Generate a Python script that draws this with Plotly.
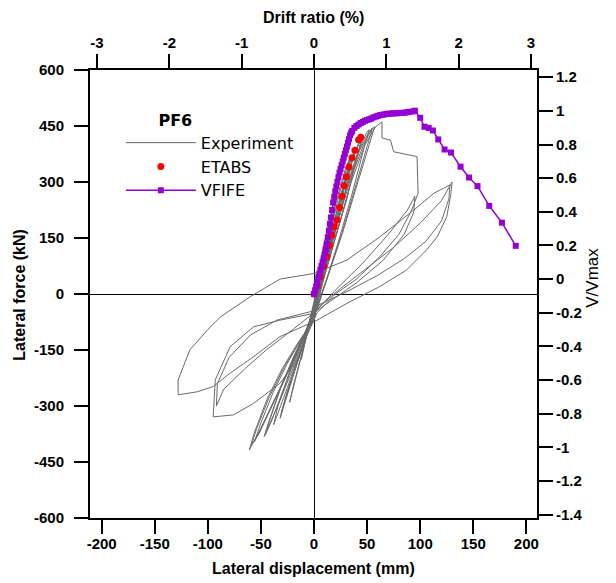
import plotly.graph_objects as go

# Experiment hysteresis (mm, kN)
exp_disp = [
    0, 4, 9, 12, 9, 4, 0, -4, -9, -12, -9, -4, 0,
    4, 10, 17, 21, 17, 10, 3, 0, -6, -13, -20, -23, -19, -10, -4, 0,
    5, 13, 22, 30, 34, 29, 20, 10, 2, -3, -10, -20, -30, -32, -27, -16, -6, 0,
    5, 14, 24, 32, 35, 30, 21, 11, 2, -4, -12, -22, -29, -31, -25, -14, -5, 0,
    6, 15, 25, 33, 38, 34, 25, 14, 4, -5, -14, -25, -34, -38, -34, -22, -10, 0,
    6, 15, 25, 35, 42, 45, 40, 30, 18, 8, 0, -8, -18, -30, -40, -46, -42, -30, -18, -6, 0,
    7, 17, 28, 37, 42, 46, 40, 31, 19, 9, 1, -9, -20, -32, -42, -47, -43, -32, -20, -8, 0,
    8, 18, 30, 40, 50, 52, 47, 36, 24, 12, 2, -8, -20, -35, -50, -61, -56, -44, -30, -15, -4, 0,
    9, 20, 32, 43, 51, 55, 50, 38, 26, 13, 2, -9, -22, -37, -52, -59, -54, -42, -28, -14, -4, 0,
    9, 21, 34, 46, 54, 57, 52, 40, 27, 14, 3, -10, -24, -40, -54, -56, -50, -38, -25, -12, -3, 0,
    10, 22, 35, 48, 58, 64, 64, 72, 75, 97, 98, 92, 80, 62, 40, 20, 3, -8, -16, -32, -57, -76,
    -95, -93, -79, -57, -32, 0,
    20, 45, 70, 88, 95, 94, 85, 65, 40, 15, 0, -20, -45, -65, -85, -92, -91, -80, -60, -35, 0,
    25, 50, 75, 100, 120, 130, 129, 125, 116, 106, 87, 62, 31, 3, -32, -57, -79, -95, -110,
    -128, -128, -117, -100, -88, -60, -32, 0, 31, 62, 94, 113, 128, 127, 120, 105, 85, 60, 30, 0,
]
exp_force = [
    0, 50, 130, 165, 120, 40, -20, -70, -140, -175, -135, -75, -30,
    40, 130, 230, 265, 200, 110, 10, -40, -100, -180, -260, -290, -240, -140, -80, -40,
    40, 150, 260, 340, 365, 300, 190, 80, -10, -60, -130, -220, -310, -333, -280, -180, -100, -50,
    30, 150, 270, 350, 370, 300, 190, 80, -20, -70, -150, -240, -305, -320, -260, -170, -95, -55,
    35, 145, 265, 345, 385, 330, 220, 100, -10, -80, -160, -250, -320, -350, -300, -200, -110, -60,
    40, 150, 260, 350, 405, 421, 360, 250, 130, 30, -40, -100, -180, -270, -340, -378, -340, -240, -160, -90, -60,
    40, 160, 280, 365, 400, 420, 365, 255, 140, 40, -35, -110, -200, -285, -350, -382, -345, -255, -175, -100, -60,
    50, 160, 280, 370, 435, 440, 390, 270, 150, 40, -40, -100, -180, -270, -360, -418, -370, -280, -200, -130, -85, -70,
    55, 175, 295, 385, 430, 445, 395, 275, 160, 50, -45, -110, -195, -285, -375, -405, -360, -275, -195, -130, -88, -70,
    55, 180, 305, 395, 440, 448, 400, 285, 165, 55, -40, -115, -205, -300, -380, -395, -345, -260, -185, -120, -80, -65,
    50, 170, 300, 400, 448, 461, 418, 412, 381, 368, 270, 225, 160, 100, 40, 0, -50, -120, -177, -239, -293, -324,
    -329, -230, -141, -88, -70, -52,
    10, 80, 160, 225, 262, 220, 160, 90, 30, -20, -50, -95, -150, -200, -255, -300, -240, -170, -110, -70, -45,
    15, 70, 125, 190, 250, 300, 270, 207, 153, 118, 64, 20, -25, -70, -114, -168, -212, -248, -262,
    -270, -230, -150, -95, -61, -7, 40, 55, 91, 153, 225, 270, 292, 255, 195, 140, 95, 50, 5, -35,
]

# ETABS pushover
etabs_disp = [0, 3, 5.8, 9, 12.2, 14.5, 16.9, 19, 21.6, 24, 26.3, 28.5, 30.5, 33, 35.7, 38.5, 42, 44]
etabs_force = [0, 22, 46, 75, 100, 130, 158, 180, 198, 232, 262, 290, 314, 340, 365, 385, 413, 420]

# VFIFE pushover
vfife_disp = [0, 1, 2, 3, 4, 5, 6, 7, 8, 9, 10, 11, 12, 13, 14, 15, 16, 17, 18, 19, 20, 21, 22,
              23, 24, 25, 26, 27, 28, 29, 30, 31, 32, 33, 34, 35, 36, 38, 40, 42, 44, 46, 48, 50,
              52, 54, 56, 58, 60, 62, 64, 66, 68, 70, 72, 74, 76, 78, 80, 82, 84, 86, 88, 90, 93,
              95, 100, 104, 108, 112, 117, 123, 129, 138, 146, 154, 165, 177, 190]
vfife_force = [0, 10, 20, 32, 45, 55, 65, 75, 85, 95, 105, 120, 135, 152, 170, 188, 205, 225, 245,
               260, 275, 288, 300, 313, 325, 335, 345, 355, 365, 375, 385, 395, 405, 415, 425,
               432, 437, 445, 450, 454, 458, 461, 464, 466, 468, 470, 473, 475, 477, 479, 480,
               481, 482, 483, 483, 484, 484, 484, 485, 485, 485, 486, 487, 488, 489, 491, 472,
               448, 445, 438, 414, 387, 379, 341, 312, 289, 236, 191, 129]

disp_ticks = [-200, -150, -100, -50, 0, 50, 100, 150, 200]
force_ticks = [-600, -450, -300, -150, 0, 150, 300, 450, 600]
drift_ticks = [-3, -2, -1, 0, 1, 2, 3]
ratio_ticks = [-1.4, -1.2, -1, -0.8, -0.6, -0.4, -0.2, 0, 0.2, 0.4, 0.6, 0.8, 1, 1.2]

tick_font = dict(family="Liberation Sans", size=15, color="black", weight="bold")
title_font = dict(family="Liberation Sans", size=16, color="black", weight="bold")
PURPLE = "#9400d3"

fig = go.Figure()

fig.add_trace(go.Scatter(
    x=exp_disp, y=exp_force, mode="lines", name="Experiment",
    line=dict(color="#6b6b6b", width=1)
))
fig.add_trace(go.Scatter(
    x=etabs_disp, y=etabs_force, mode="markers", name="ETABS",
    marker=dict(color="red", size=7, symbol="circle")
))
fig.add_trace(go.Scatter(
    x=vfife_disp, y=vfife_force, mode="lines+markers", name="VFIFE",
    line=dict(color=PURPLE, width=1.5),
    marker=dict(color=PURPLE, size=6, symbol="square")
))
# empty trace so the drift ratio / V/Vmax axes get drawn
fig.add_trace(go.Scatter(x=[None], y=[None], xaxis="x2", yaxis="y2",
                         showlegend=False, hoverinfo="skip"))

axis_common = dict(showline=True, linecolor="black", linewidth=2, ticks="outside",
                   ticklen=14, tickwidth=2, tickcolor="black", showgrid=False,
                   tickfont=tick_font)

# the page body has an 8px margin, so the figure is 8px smaller than the window
fig.update_layout(
    width=608, height=575,
    margin=dict(l=82, r=79, t=62, b=65),
    plot_bgcolor="white", paper_bgcolor="white",
    xaxis=dict(range=[-211, 210], tickvals=disp_ticks,
               ticktext=[f"{v:g}" for v in disp_ticks], ticklabelstandoff=-3,
               zeroline=True, zerolinecolor="black", zerolinewidth=1, **axis_common),
    yaxis=dict(range=[-600, 600], tickvals=force_ticks,
               ticktext=[f"{v:g}" for v in force_ticks], ticklabelstandoff=7,
               zeroline=True, zerolinecolor="black", zerolinewidth=1, **axis_common),
    xaxis2=dict(range=[-3.097, 3.083], overlaying="x", side="top", anchor="y2",
                tickvals=drift_ticks, ticktext=[f"{v:g}" for v in drift_ticks],
                zeroline=False, **axis_common),
    yaxis2=dict(range=[-1.42, 1.243], overlaying="y", side="right", anchor="x2",
                tickvals=ratio_ticks, ticktext=[f"{v:g}" for v in ratio_ticks],
                zeroline=False, **axis_common),
    showlegend=True,
    legend=dict(
        x=0.069, y=0.922, xanchor="left", yanchor="top",
        bgcolor="rgba(0,0,0,0)", itemwidth=70,
        font=dict(family="DejaVu Sans", size=16, color="black"),
        title=dict(text="\u00a0" * 7 + "<b>PF6</b>", side="top",
                   font=dict(family="DejaVu Sans", size=16, color="black")),
    ),
    annotations=[
        dict(text="Drift ratio (%)", xref="paper", yref="paper", x=0.5, y=1.118,
             xanchor="center", yanchor="middle", showarrow=False, font=title_font),
        dict(text="Lateral displacement (mm)", xref="paper", yref="paper", x=0.5, y=-0.112,
             xanchor="center", yanchor="middle", showarrow=False, font=title_font),
        dict(text="Lateral force (kN)", xref="paper", yref="paper", x=-0.157, y=0.498,
             xanchor="center", yanchor="middle", textangle=-90, showarrow=False,
             font=title_font),
        dict(text="V/Vmax", xref="paper", yref="paper", x=1.125, y=0.536,
             xanchor="center", yanchor="middle", textangle=-90, showarrow=False,
             font=dict(family="Liberation Sans", size=17, color="black")),
    ],
)

fig.write_html("out.html")
